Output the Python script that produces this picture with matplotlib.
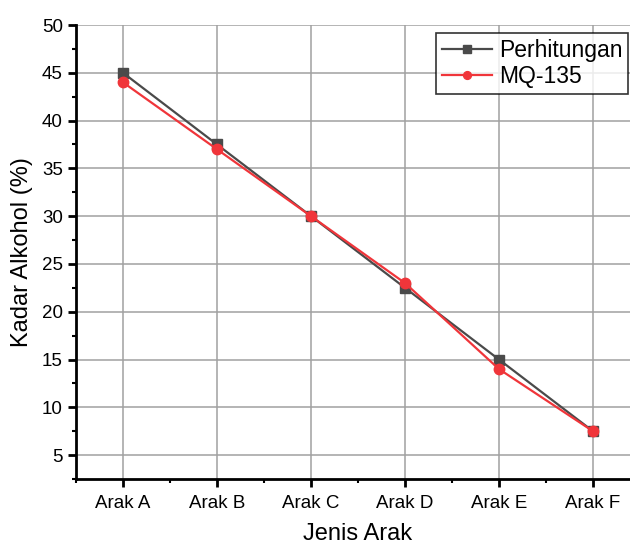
import matplotlib
matplotlib.use("Agg")
import matplotlib.pyplot as plt
from matplotlib.ticker import MultipleLocator

categories = ["Arak A", "Arak B", "Arak C", "Arak D", "Arak E", "Arak F"]
perhitungan = [45, 37.5, 30, 22.5, 15, 7.5]
mq135 = [44, 37, 30, 23, 14, 7.5]

plt.rcParams['font.family'] = ['Liberation Sans', 'DejaVu Sans']

fig = plt.figure(figsize=(6.3, 5.46), dpi=100)
ax = fig.add_axes([76/630, 67/546, 564/630, 454/546])
x = list(range(len(categories)))

ax.plot(x, perhitungan, color='#4a4a4a', marker='s', markersize=7.5, linewidth=1.6,
        label='Perhitungan', zorder=3)
ax.plot(x, mq135, color='#f0353a', marker='o', markersize=7.5, linewidth=1.6,
        label='MQ-135', zorder=4)

ax.set_xlim(-0.5, 5.5)
ax.set_ylim(2.5, 50)
ax.set_xticks(x)
ax.set_xticklabels(categories)
ax.set_xticks([i - 0.5 for i in range(7)], minor=True)
ax.set_yticks(list(range(5, 51, 5)))
ax.yaxis.set_minor_locator(MultipleLocator(2.5))

ax.grid(True, which='major', color='#a0a0a0', linewidth=1.1)
ax.set_axisbelow(True)
for s in ['top', 'right']:
    ax.spines[s].set_visible(False)
for s in ['left', 'bottom']:
    ax.spines[s].set_linewidth(2)
ax.tick_params(which='major', direction='out', length=5.5, width=2, labelsize=13.5)
ax.tick_params(axis='x', which='major', pad=6)
ax.tick_params(axis='y', which='major', pad=4)
ax.tick_params(which='minor', direction='out', length=3, width=1.5)

ax.set_xlabel('Jenis Arak', fontsize=17, labelpad=8)
ax.set_ylabel('Kadar Alkohol (%)', fontsize=17, labelpad=6)

leg = ax.legend(loc='upper left', fontsize=16.5, frameon=True, fancybox=False,
                edgecolor='black', handlelength=2.2, borderpad=0.25, labelspacing=0.15,
                handletextpad=0.3, borderaxespad=0, markerscale=0.75)
leg.set_bbox_to_anchor((436/630, 1 - 33/546), transform=fig.transFigure)
leg.get_frame().set_linewidth(1.2)

fig.savefig('out.png', dpi=100)
